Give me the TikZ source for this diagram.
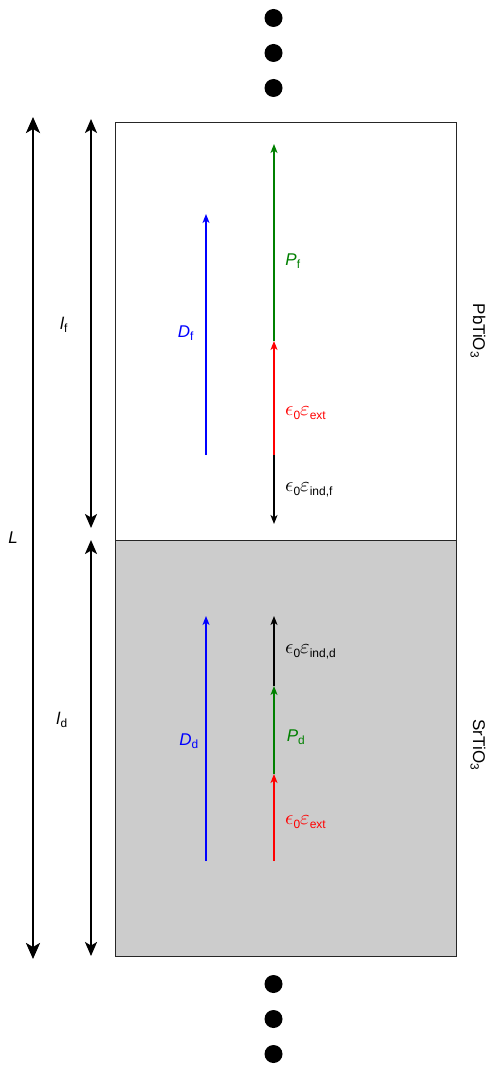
\documentclass[tikz,border=0pt]{standalone}
\usepackage{graphicx}
\usepackage{fontspec}
\setmainfont{Liberation Sans}
\usetikzlibrary{arrows.meta}
\newcommand{\epssub}[1]{\raisebox{-3.8pt}{\fontsize{12}{14}\selectfont #1}}
\newcommand{\epslbl}[1]{\scalebox{2.05}{$\epsilon$}\epssub{0}\scalebox{2.05}{$\varepsilon$}\epssub{#1}}
\begin{document}
\begin{tikzpicture}[x=1pt,y=-1pt,
  thin arrow/.style={line width=1.25pt,-{Stealth[length=9pt,width=7pt,inset=2.5pt]}},
  thick arrow/.style={line width=2.6pt,{Stealth[length=16pt,width=14pt,inset=4pt]}-{Stealth[length=16pt,width=14pt,inset=4pt]}},
  dimarrow/.style={line width=2pt,{Stealth[length=14pt,width=12pt,inset=3.5pt]}-{Stealth[length=14pt,width=12pt,inset=3.5pt]}},
  lbl/.style={font=\fontsize{17}{19}\selectfont,inner sep=0pt},
  elbl/.style={font=\normalsize,inner sep=0pt,anchor=west},
  dot/.style={circle,fill=black,minimum size=18pt,inner sep=0pt}]
\useasboundingbox (0,0) rectangle (490,1067);
% dots
\foreach \y/\n in {18/t1,53/t2,88/t3,984/b1,1019/b2,1054/b3} \node[dot] (\n) at (273.5,\y) {};
% boxes
\node[draw=black!85,line width=0.8pt,fill=white,minimum width=341pt,minimum height=418pt,inner sep=0pt] (film) at (285.5,331) {};
\node[draw=black!85,line width=0.8pt,fill=black!20,minimum width=341pt,minimum height=416pt,inner sep=0pt] (sub) at (285.5,748) {};
% dimension arrows
\coordinate (Ltop) at (33,117);
\coordinate (Lbot) at (33,959);
\draw[thick arrow] (Ltop) -- (Lbot);
\node[lbl] (L) at (13,538) {\textit{L}};
\coordinate (lft) at (91,119);
\coordinate (lfb) at (91,528);
\draw[dimarrow] (lft) -- (lfb);
\node[lbl] (lf) at (64,325) {\textit{l}\textsubscript{f}};
\coordinate (ldt) at (91,540);
\coordinate (ldb) at (91,956);
\draw[dimarrow] (ldt) -- (ldb);
\node[lbl] (ld) at (62,720) {\textit{l}\textsubscript{d}};
% film arrows
\coordinate (Df0) at (206,455); \coordinate (Df1) at (206,214);
\draw[thin arrow,draw=blue,fill=blue] (Df0) -- (Df1);
\node[lbl,text=blue] (Dfl) at (186,333) {\textit{D}\textsubscript{f}};
\coordinate (a0) at (274,455); \coordinate (a1) at (274,341); \coordinate (a2) at (274,144); \coordinate (a3) at (274,524);
\draw[thin arrow,draw=red,fill=red] (a0) -- (a1);
\draw[thin arrow,draw=green!50!black,fill=green!50!black] (a1) -- (a2);
\draw[thin arrow,draw=black,fill=black] (a0) -- (a3);
\node[lbl,text=green!50!black] (Pfl) at (293,261) {\textit{P}\textsubscript{f}};
\node[elbl,text=red] (e1) at (285,413) {\epslbl{ext}};
\node[elbl] (e2) at (285,490) {\epslbl{ind,f}};
% substrate arrows
\coordinate (Dd0) at (206,861); \coordinate (Dd1) at (206,616);
\draw[thin arrow,draw=blue,fill=blue] (Dd0) -- (Dd1);
\node[lbl,text=blue] (Ddl) at (189,741) {\textit{D}\textsubscript{d}};
\coordinate (b0) at (274,861); \coordinate (b1) at (274,774); \coordinate (b2) at (274,686); \coordinate (b3) at (274,616);
\draw[thin arrow,draw=red,fill=red] (b0) -- (b1);
\draw[thin arrow,draw=green!50!black,fill=green!50!black] (b1) -- (b2);
\draw[thin arrow,draw=black,fill=black] (b2) -- (b3);
\node[lbl,text=green!50!black] (Pdl) at (296,737) {\textit{P}\textsubscript{d}};
\node[elbl,text=red] (e3) at (285,822) {\epslbl{ext}};
\node[elbl] (e4) at (285,652) {\epslbl{ind,d}};
% material labels
\node[lbl,rotate=-90] (pto) at (478,331) {PbTiO\textsubscript{3}};
\node[lbl,rotate=-90] (sto) at (478,745) {SrTiO\textsubscript{3}};
\end{tikzpicture}
\end{document}
